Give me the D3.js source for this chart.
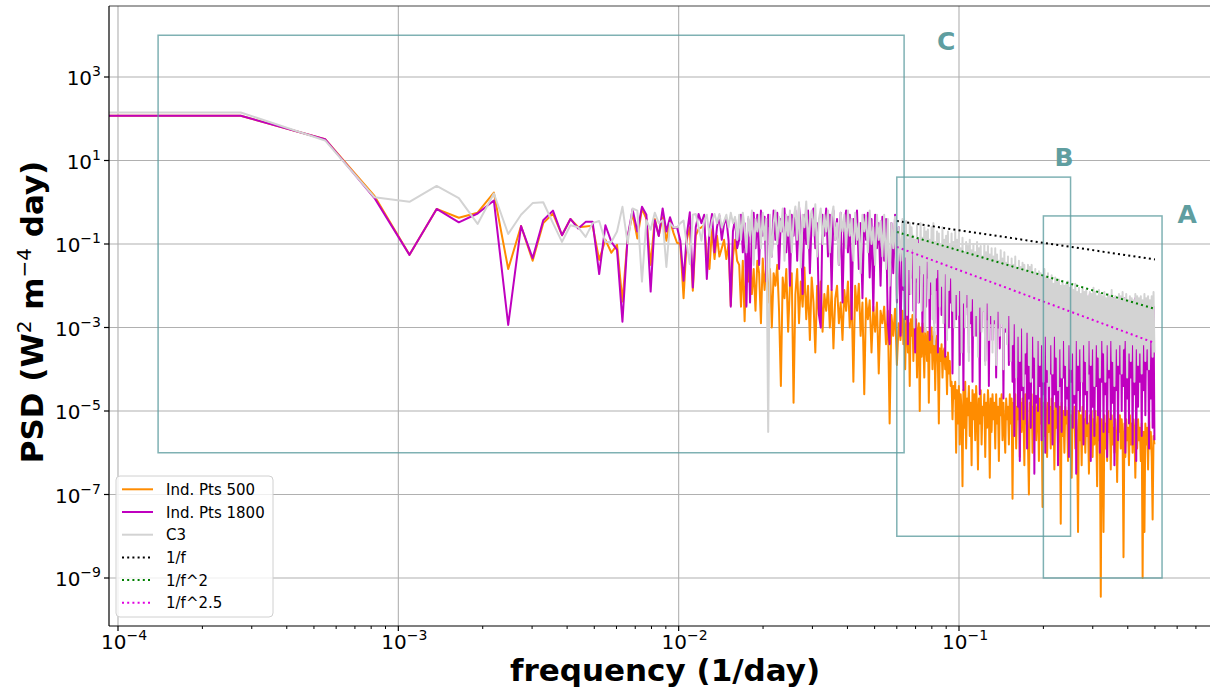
<!DOCTYPE html>
<html>
<head>
<meta charset="utf-8">
<script src="https://cdn.jsdelivr.net/npm/d3@7"></script>
<style>
  body { margin: 0; background: #fff; }
  svg { display: block; font-family: "DejaVu Sans", sans-serif; }
</style>
</head>
<body>
<svg id="psd-plot" width="1210" height="689"></svg>
<script>

// record length in days -> frequency step 1/N
const N_DAYS = 3650;

// harmonics k = 0..59 read one by one, then thinned grids above k = 60
const kLow = d3.range(0, 60);
const kMid = d3.range(0, 90).map(j => 60 * Math.pow(1.015, j));
const kDense = d3.range(0, 278).map(i => 229.4 * Math.pow(1.0075, i));

// log10(PSD)
const ind500Low = [2.07, 2.07, 1.51, 0.15, -1.26, -0.16, -0.37, -0.25, 0.23, -1.6,
	-0.57, -1.4, -0.5, -0.27, -0.79, -0.4, -0.6, -0.58, -0.56, -1.38,
	-0.9, -1.21, -1.02, -2.38, -0.85, -0.27, -0.87, -0.15, -0.4, -1.5,
	-0.4, -0.8, -0.36, -0.92, -0.45, -0.74, -0.97, -1.0, -2.3, -0.9,
	-0.6, -2.12, -0.8, -0.64, -0.6, -0.55, -1.24, -1.6, -0.64, -1.36,
	-0.8, -1.3, -1.1, -0.9, -1.36, -1.0, -2.48, -1.3, -0.9, -1.4];
const ind500Mid = [
	-1.5, -2.5, -1.4, -2.85, -1.3, -1.9, -1.35, -2.2, -1.6, -2.6,
	-1.4, -1.7, -2.9, -1.35, -2.1, -1.5, -2.4, -1.6, -3.0, -1.7,
	-2.0, -1.5, -2.6, -4.4, -1.8, -2.3, -1.6, -3.1, -2.0, -1.7,
	-4.8, -2.2, -1.6, -2.9, -1.9, -2.5, -1.56, -2.8, -2.0, -3.3,
	-1.8, -2.4, -3.6, -2.0, -2.7, -1.9, -3.1, -2.2, -2.6, -2.0,
	-3.0, -2.1, -3.5, -2.3, -2.0, -2.9, -2.4, -3.3, -2.1, -2.6,
	-1.9, -3.0, -2.2, -4.3, -2.0, -2.6, -1.95, -3.2, -2.4, -4.6,
	-2.3, -2.8, -2.35, -3.6, -2.5, -3.1, -2.4, -4.1, -2.6, -2.9,
	-2.5, -3.4, -2.6, -5.3, -2.7, -3.2, -2.55, -3.9, -2.9, -3.3];
const ind500Dense = [
	-2.6, -3.4, -2.8, -4.0, -3.0, -2.7, -3.6, -2.9, -4.4, -2.8, -3.2, -2.7, -3.8, -3.0, -3.5, -2.8, -4.2, -3.1, -2.9, -5.0,
	-3.0, -3.7, -2.9, -3.4, -4.2, -3.0, -3.3, -3.8, -3.1, -4.8, -3.2, -3.6, -3.0, -4.0, -3.3, -3.1, -4.5, -3.4, -3.2, -3.9,
	-5.3, -3.5, -3.8, -3.4, -4.2, -3.6, -3.5, -4.0, -3.7, -4.6, -3.6, -4.1, -3.8, -4.4, -4.3, -5.2, -4.4, -4.7, -4.3, -6.0,
	-4.5, -5.3, -4.4, -5.8, -4.6, -5.0, -6.8, -4.5, -5.4, -4.3, -5.9, -4.7, -5.1, -4.4, -5.6, -4.8, -6.3, -4.5, -5.2, -4.6,
	-5.7, -4.4, -5.0, -6.4, -4.7, -5.3, -4.5, -5.8, -4.9, -5.1, -4.6, -6.1, -4.8, -5.4, -4.5, -5.0, -6.6, -4.7, -5.5, -4.6,
	-5.2, -4.8, -5.9, -4.6, -5.3, -4.9, -6.2, -4.7, -5.1, -4.6, -5.7, -4.8, -5.4, -6.0, -4.7, -5.2, -4.9, -5.8, -4.6, -5.3,
	-4.7, -7.1, -4.8, -5.4, -4.6, -5.9, -4.9, -5.2, -4.5, -6.1, -4.8, -5.5, -4.7, -5.0, -6.3, -4.6, -5.3, -4.9, -5.8, -7.0,
	-4.8, -5.4, -4.6, -6.0, -4.9, -5.2, -4.7, -5.7, -5.0, -4.8, -6.2, -4.7, -5.3, -4.9, -7.3, -4.8, -5.6, -4.7, -5.1, -6.1,
	-4.8, -5.5, -4.9, -5.9, -4.7, -5.2, -5.0, -6.4, -4.8, -5.4, -4.9, -5.8, -5.1, -4.9, -7.7, -4.8, -5.6, -5.0, -6.0, -4.9,
	-5.3, -5.0, -6.2, -4.9, -5.5, -5.1, -6.6, -5.0, -5.4, -4.9, -5.9, -5.2, -5.6, -7.9, -5.0, -5.7, -5.1, -6.3, -4.9, -5.5,
	-5.2, -6.0, -5.0, -5.6, -5.3, -6.5, -5.1, -5.4, -5.0, -6.1, -5.2, -5.8, -5.0, -5.5, -6.8, -5.1, -5.7, -5.3, -9.45, -5.2,
	-5.6, -7.9, -5.1, -5.9, -5.3, -6.2, -5.0, -5.5, -5.2, -6.4, -5.1, -5.8, -5.4, -6.0, -5.2, -5.6, -6.7, -5.3, -5.5, -5.1,
	-5.9, -5.2, -5.6, -8.5, -5.3, -6.1, -5.2, -5.7, -5.4, -6.3, -5.1, -5.8, -5.3, -6.0, -5.2, -5.5, -6.6, -5.3, -5.9, -5.2,
	-5.7, -5.4, -6.2, -5.3, -9.0, -5.5, -7.9, -5.3, -5.8, -5.4, -6.4, -5.2, -5.9, -5.5, -6.1, -7.6, -5.6, -5.8];

const ind1800Low = [2.07, 2.07, 1.51, 0.10, -1.26, -0.16, -0.48, -0.27, 0.04, -2.94,
	-0.57, -1.34, -0.43, -0.2, -0.79, -0.4, -0.63, -0.47, -0.47, -1.72,
	-0.55, -0.95, -1.14, -2.86, -0.83, -0.17, -0.7, -0.11, -0.3, -2.14,
	-0.43, -0.81, -0.15, -0.7, -0.36, -0.62, -0.6, -0.92, -1.88, -0.8,
	-0.24, -2.04, -0.6, -0.28, -0.5, -0.3, -1.84, -0.7, -0.28, -1.2,
	-0.6, -0.32, -0.9, -0.52, -0.4, -0.92, -2.5, -0.7, -0.4, -1.1];
const ind1800Mid = [
	-0.9, -0.3, -1.2, -0.5, -2.5, -0.4, -2.4, -0.7, -0.25, -1.1,
	-0.3, -1.5, -0.2, -0.8, -0.35, -1.9, -0.3, -0.6, -1.3, -0.2,
	-0.9, -0.25, -1.6, -0.4, -0.7, -0.15, -1.2, -0.35, -2.0, -0.3,
	-0.8, -0.2, -1.4, -0.1, -0.6, -2.2, -0.3, -1.0, -0.2, -1.7,
	-0.4, -0.15, -1.1, -0.5, -2.7, -3.0, -0.3, -0.8, -0.15, -1.3,
	-0.3, -2.1, -0.2, -0.9, -0.4, -1.5, -0.25, -2.4, -0.5, -0.2,
	-1.2, -0.3, -2.8, -0.4, -1.0, -0.2, -1.6, -0.5, -2.3, -0.3,
	-0.9, -0.25, -1.8, -0.4, -2.6, -0.3, -1.1, -0.5, -2.0, -0.35,
	-1.4, -0.4, -2.9, -3.4, -0.5, -1.7, -0.3, -2.4, -0.6, -3.2];
const ind1800Dense = [
	-0.7, -2.1, -1.0, -2.8, -0.8, -1.6, -3.4, -0.9, -2.2, -1.1, -1.8, -0.8, -2.6, -1.0, -3.6, -1.2, -1.9, -0.9, -2.4, -1.3,
	-1.7, -1.0, -3.1, -1.1, -2.0, -0.9, -2.5, -1.4, -1.8, -1.0, -3.3, -1.2, -2.2, -1.1, -1.7, -2.9, -1.0, -2.1, -1.3, -3.6,
	-1.1, -2.0, -1.2, -2.7, -1.4, -2.3, -1.0, -3.7, -1.3, -2.0, -1.2, -3.0, -1.4, -2.4, -1.2, -4.1, -1.5, -2.2, -1.3, -2.8,
	-1.4, -2.6, -1.5, -3.9, -1.3, -2.4, -1.6, -4.5, -1.4, -2.7, -1.7, -2.5, -1.5, -3.6, -1.6, -2.9, -1.4, -4.3, -1.7, -2.6,
	-1.5, -3.2, -1.6, -2.7, -1.8, -4.6, -1.5, -3.0, -1.7, -2.6, -1.6, -3.8, -1.8, -2.8, -1.7, -4.4, -1.9, -2.9, -1.6, -3.3,
	-1.8, -2.9, -1.7, -4.2, -1.9, -3.0, -1.8, -3.5, -2.0, -2.8, -1.8, -4.7, -1.9, -3.1, -2.0, -3.0, -1.9, -3.9, -2.1, -3.2,
	-2.0, -4.3, -2.1, -5.6, -1.9, -4.0, -2.2, -4.9, -2.0, -6.2, -2.1, -4.5, -2.3, -5.2, -2.0, -4.1, -2.2, -5.9, -2.1, -4.7,
	-2.2, -5.4, -2.0, -4.2, -2.3, -6.5, -2.1, -4.8, -2.4, -5.0, -2.2, -4.4, -2.1, -5.7, -2.3, -4.6, -2.2, -6.0, -2.4, -4.3,
	-2.1, -5.3, -2.3, -4.1, -2.2, -5.8, -2.5, -4.6, -2.2, -4.9, -2.3, -6.3, -2.1, -4.4, -2.4, -5.5, -2.3, -4.2, -2.2, -5.1,
	-2.3, -4.7, -2.2, -6.1, -2.4, -4.3, -2.3, -5.4, -2.5, -4.8, -2.2, -6.5, -2.4, -4.5, -2.3, -5.0, -2.5, -4.2, -2.2, -5.8,
	-2.4, -4.6, -2.3, -5.3, -2.5, -4.1, -2.2, -6.2, -2.4, -4.9, -2.3, -5.6, -2.6, -4.4, -2.3, -5.1, -2.4, -6.0, -2.5, -4.3,
	-2.3, -5.5, -2.4, -4.6, -2.6, -6.1, -2.3, -4.2, -2.5, -5.2, -2.4, -4.8, -2.3, -6.3, -2.6, -4.5, -2.4, -5.7, -2.5, -4.1,
	-2.4, -5.0, -2.5, -4.4, -2.3, -6.0, -2.6, -4.7, -2.4, -5.3, -2.5, -4.2, -2.4, -5.8, -2.6, -4.6, -2.3, -6.2, -2.5, -4.9,
	-2.4, -4.3, -2.6, -5.6, -2.5, -4.5, -2.4, -5.1, -2.6, -4.0, -2.5, -5.9, -2.4, -4.7, -2.6, -5.4, -2.5, -5.7];

const c3Low = [2.15, 2.15, 1.48, 0.12, 0.01, 0.39, 0.1, -0.52, 0.21, -0.76,
	-0.3, -0.02, 0.0, -0.5, -0.95, -0.55, -0.6, -0.83, -0.5, -0.45,
	-0.95, -0.95, -0.7, -0.11, -0.98, -0.15, -0.2, -1.9, -0.43, -0.66,
	-0.25, -0.5, -0.43, -1.55, -0.5, -0.6, -0.6, -0.5, -0.44, -1.0,
	-1.48, -0.3, -0.28, -0.6, -0.92, -0.44, -0.3, -0.8, -0.44, -0.28,
	-0.5, -0.28, -0.6, -0.45, -0.3, -0.6, -0.25, -0.5, -0.35, -0.9];
const c3Mid = [
	-0.3, -0.9, -0.25, -0.6, -1.2, -0.35, -0.8, -0.2, -1.5, -0.4,
	-0.7, -0.3, -1.1, -0.25, -0.9, -0.4, -5.5, -0.3, -1.3, -0.5,
	-0.2, -1.0, -0.35, -0.7, -0.15, -1.4, -0.3, -0.8, -0.2, -1.2,
	-0.4, -0.1, -0.9, 0.0, -1.56, -0.3, -0.6, 0.02, -1.1, -0.4,
	-0.2, -0.8, -0.05, -1.3, -0.4, -0.15, -1.0, -0.3, -0.7, -0.2,
	-1.2, -0.35, -0.1, -0.9, -0.5, -1.5, -0.25, -0.7, -0.3, -1.1,
	-0.2, -0.8, -0.4, -1.4, -0.25, -0.9, -0.5, -1.7, -0.3, -0.7,
	-0.35, -1.2, -0.2, -1.0, -0.6, -1.5, -0.3, -0.9, -0.45, -1.3,
	-0.3, -1.6, -0.4, -2.0, -0.5, -1.1, -0.35, -2.3, -0.6, -1.4];
const c3Dense = [
	-0.4, -2.0, -0.7, -1.3, -0.45, -2.7, -0.9, -1.6, -0.5, -2.2, -0.6, -1.1, -0.8, -3.0, -0.9, -1.8, -0.55, -2.4, -1.0, -1.5,
	-0.5, -2.6, -0.85, -1.7, -0.6, -3.1, -0.7, -1.4, -0.65, -2.3, -0.9, -1.9, -0.6, -2.8, -0.5, -3.4, -0.95, -1.8, -0.7, -1.6,
	-0.75, -2.5, -1.0, -2.0, -0.6, -2.9, -0.9, -1.7, -0.8, -3.3, -0.7, -2.1, -1.05, -1.8, -0.75, -2.6, -0.95, -3.0, -0.7, -2.2,
	-0.9, -2.7, -0.8, -2.1, -1.1, -3.6, -0.85, -2.4, -1.2, -3.0, -0.95, -2.2, -1.05, -3.8, -0.9, -2.6, -1.15, -2.3, -1.0, -3.2,
	-1.2, -2.7, -0.95, -3.7, -1.1, -2.5, -1.05, -3.1, -1.3, -2.6, -1.0, -3.9, -1.2, -2.4, -1.05, -3.3, -1.25, -2.7, -1.1, -3.6,
	-1.3, -2.8, -1.1, -3.9, -1.25, -2.6, -1.4, -3.2, -1.15, -2.9, -1.35, -4.0, -1.2, -3.0, -1.45, -3.4, -1.3, -2.7, -1.5, -3.8,
	-1.35, -3.4, -1.5, -2.9, -1.3, -4.2, -1.6, -3.2, -1.4, -3.8, -1.55, -3.0, -1.45, -4.4, -1.5, -3.6, -1.65, -3.1, -1.5, -3.9,
	-1.55, -4.3, -1.5, -3.2, -1.7, -3.7, -1.6, -4.6, -1.75, -3.3, -1.65, -3.9, -1.7, -3.4, -1.8, -4.3, -1.6, -3.2, -1.8, -4.0,
	-1.7, -4.4, -1.85, -3.4, -1.75, -4.1, -1.95, -3.2, -1.8, -3.7, -1.9, -4.5, -1.85, -3.5, -2.0, -4.2, -1.9, -3.3, -2.0, -3.9,
	-1.95, -4.4, -1.9, -3.4, -2.05, -4.0, -2.0, -3.6, -2.1, -4.6, -1.95, -3.3, -2.15, -3.9, -2.05, -3.5, -2.2, -4.3, -2.05, -3.4,
	-2.15, -3.8, -2.1, -4.5, -2.25, -3.3, -2.15, -3.9, -2.2, -3.5, -2.05, -4.4, -2.15, -3.4, -2.25, -3.7, -2.1, -4.2, -2.2, -3.3,
	-2.25, -3.6, -2.15, -4.3, -2.3, -3.4, -2.2, -4.0, -2.25, -3.3, -2.1, -3.8, -2.3, -4.4, -2.25, -3.5, -2.35, -3.9, -2.2, -3.4,
	-2.25, -4.1, -2.15, -3.5, -2.3, -3.3, -2.2, -4.2, -2.35, -3.6, -2.25, -3.8, -2.3, -3.4, -2.35, -4.3, -2.2, -3.5, -2.25, -3.9,
	-2.3, -3.6, -2.25, -4.1, -2.35, -3.4, -2.2, -3.8, -2.3, -3.5, -2.25, -4.0, -2.35, -3.3, -2.25, -3.7, -2.15, -3.6];

// power-law guides: value at the first frequency, exponent
const guideFreqs = [0.06, 0.5];
const guideNames = ['1/f', '1/f^2', '1/f^2.5'];
const guideStart = [0.356, 0.194, 0.085];
const guideExp = [1, 2, 2.5];
const guideColors = ['#000000', '#008000', '#e000e0'];

// frequency bands marked on the figure
const boxNames = ['C', 'B', 'A'];
const boxFreq = [[1.39e-4, 0.0637], [0.06, 0.25], [0.2, 0.53]];
const boxPsd = [[1e4, 1e-6], [4, 1e-8], [0.47, 1e-9]];
const boxLabelAt = [[0.09, 7e3], [0.237, 11.5], [0.652, 0.5]];

const seriesNames = ['Ind. Pts 500', 'Ind. Pts 1800', 'C3'];
const seriesColors = ['#ff8c00', '#bf00bf', '#d3d3d3'];

const xTicks = [1e-4, 1e-3, 1e-2, 1e-1];
const yTicks = [1e3, 1e1, 1e-1, 1e-3, 1e-5, 1e-7, 1e-9];


const svg = d3.select('#psd-plot');
const plot = {left: 109, right: 1210, top: 6, bottom: 626};

const x = d3.scaleLog().domain([1e-4, 1e-1]).range([118, 959]);
const y = d3.scaleLog().domain([1e3, 1e-9]).range([77, 578]);

const freqs = kLow.concat(kMid, kDense).map(k => k / N_DAYS);
const series = [
	ind500Low.concat(ind500Mid, ind500Dense),
	ind1800Low.concat(ind1800Mid, ind1800Dense),
	c3Low.concat(c3Mid, c3Dense)
].map(vals => vals.map((v, i) => ({f: freqs[i], p: Math.pow(10, v)})));

svg.append('defs').append('clipPath').attr('id', 'plot-clip')
	.append('rect')
	.attr('x', plot.left).attr('y', plot.top)
	.attr('width', plot.right - plot.left).attr('height', plot.bottom - plot.top);

// grid
const grid = svg.append('g').attr('stroke', '#b0b0b0').attr('stroke-width', 1.1);
grid.selectAll('.gx').data(xTicks).enter().append('line')
	.attr('x1', d => x(d)).attr('x2', d => x(d))
	.attr('y1', plot.top).attr('y2', plot.bottom);
grid.selectAll('.gy').data(yTicks).enter().append('line')
	.attr('x1', plot.left).attr('x2', plot.right)
	.attr('y1', d => y(d)).attr('y2', d => y(d));

// f = 0 gets pushed off the left edge, like matplotlib's clipping
const line = d3.line()
	.x(d => d.f > 0 ? x(d.f) : plot.left - 20)
	.y(d => y(d.p));

const data_g = svg.append('g').attr('clip-path', 'url(#plot-clip)');
series.forEach((s, i) => {
	data_g.append('path').datum(s)
		.attr('d', line)
		.attr('fill', 'none')
		.attr('stroke', seriesColors[i])
		.attr('stroke-width', 2)
		.attr('stroke-linejoin', 'round');
});

guideNames.forEach((name, i) => {
	const pts = guideFreqs.map(f => ({f: f, p: guideStart[i] * Math.pow(guideFreqs[0] / f, guideExp[i])}));
	data_g.append('path').datum(pts)
		.attr('d', line)
		.attr('fill', 'none')
		.attr('stroke', guideColors[i])
		.attr('stroke-width', 2)
		.attr('stroke-dasharray', '2,3.2');
});

// band boxes
const boxes = svg.append('g').attr('clip-path', 'url(#plot-clip)');
boxNames.forEach((name, i) => {
	const x0 = x(boxFreq[i][0]), x1 = x(boxFreq[i][1]);
	const y0 = y(boxPsd[i][0]), y1 = y(boxPsd[i][1]);
	boxes.append('rect')
		.attr('x', x0).attr('y', y0)
		.attr('width', x1 - x0).attr('height', y1 - y0)
		.attr('fill', 'none')
		.attr('stroke', '#5f9ea0')
		.attr('stroke-opacity', 0.8)
		.attr('stroke-width', 1.5);
	boxes.append('text')
		.attr('x', x(boxLabelAt[i][0])).attr('y', y(boxLabelAt[i][1]))
		.attr('text-anchor', 'middle')
		.attr('dominant-baseline', 'central')
		.attr('font-size', 25).attr('font-weight', 'bold')
		.attr('fill', '#5f9ea0')
		.text(name);
});

// spines
svg.append('line').attr('x1', plot.left).attr('x2', plot.right).attr('y1', plot.top).attr('y2', plot.top)
	.attr('stroke', '#444').attr('stroke-width', 1.2);
svg.append('line').attr('x1', plot.left).attr('x2', plot.left).attr('y1', plot.top).attr('y2', plot.bottom)
	.attr('stroke', '#000').attr('stroke-width', 1.2);
svg.append('line').attr('x1', plot.left).attr('x2', plot.right).attr('y1', plot.bottom).attr('y2', plot.bottom)
	.attr('stroke', '#000').attr('stroke-width', 1.2);

function powerLabel(sel, e) {
	sel.append('tspan').text('10');
	sel.append('tspan').attr('dy', -9).attr('font-size', 14)
		.text(e < 0 ? '\u2212' + (-e) : String(e));
}

// x ticks
const xMinor = [];
for (let d = -5; d <= 0; d++) {
	for (let m = 2; m <= 9; m++) {
		const f = m * Math.pow(10, d);
		if (x(f) > plot.left && x(f) < plot.right) xMinor.push(f);
	}
}
svg.append('g').selectAll('line').data(xMinor).enter().append('line')
	.attr('x1', d => x(d)).attr('x2', d => x(d))
	.attr('y1', plot.bottom).attr('y2', plot.bottom + 3)
	.attr('stroke', '#000').attr('stroke-width', 1);
svg.append('g').selectAll('line').data(xTicks).enter().append('line')
	.attr('x1', d => x(d)).attr('x2', d => x(d))
	.attr('y1', plot.bottom).attr('y2', plot.bottom + 5)
	.attr('stroke', '#000').attr('stroke-width', 1.2);
svg.append('g').selectAll('text').data(xTicks).enter().append('text')
	.attr('x', d => x(d) + 6).attr('y', 649)
	.attr('text-anchor', 'middle')
	.attr('font-size', 20)
	.each(function(d) { powerLabel(d3.select(this), Math.round(Math.log10(d))); });

// y ticks
svg.append('g').selectAll('line').data(yTicks).enter().append('line')
	.attr('x1', plot.left - 5).attr('x2', plot.left)
	.attr('y1', d => y(d)).attr('y2', d => y(d))
	.attr('stroke', '#000').attr('stroke-width', 1.2);
svg.append('g').selectAll('text').data(yTicks).enter().append('text')
	.attr('x', 101).attr('y', d => y(d) + 8)
	.attr('text-anchor', 'end')
	.attr('font-size', 20)
	.each(function(d) { powerLabel(d3.select(this), Math.round(Math.log10(d))); });

// axis titles
svg.append('text')
	.attr('x', 665).attr('y', 681)
	.attr('text-anchor', 'middle')
	.attr('font-size', 31).attr('font-weight', 'bold')
	.text('frequency (1/day)');

const ytitle = svg.append('text')
	.attr('transform', 'translate(43,312) rotate(-90)')
	.attr('text-anchor', 'middle')
	.attr('font-size', 31).attr('font-weight', 'bold');
ytitle.append('tspan').text('PSD (W');
ytitle.append('tspan').attr('dy', -12).attr('font-size', 20).attr('font-weight', 'normal').text('2');
ytitle.append('tspan').attr('dy', 12).text(' m');
ytitle.append('tspan').attr('dy', -12).attr('font-size', 20).attr('font-weight', 'normal').text('\u22124');
ytitle.append('tspan').attr('dy', 12).text(' day)');

// legend
const legend = svg.append('g');
legend.append('rect')
	.attr('x', 116).attr('y', 476).attr('width', 157).attr('height', 141)
	.attr('rx', 4)
	.attr('fill', '#fff').attr('fill-opacity', 0.8)
	.attr('stroke', '#d0d0d0').attr('stroke-width', 1);
const legendItems = seriesNames.map((n, i) => ({name: n, color: seriesColors[i], dash: null}))
	.concat(guideNames.map((n, i) => ({name: n, color: guideColors[i], dash: '2,3.2'})));
legendItems.forEach((it, i) => {
	const ly = 489.3 + i * 22.7;
	legend.append('line')
		.attr('x1', 122).attr('x2', 153).attr('y1', ly).attr('y2', ly)
		.attr('stroke', it.color)
		.attr('stroke-width', 2)
		.attr('stroke-dasharray', it.dash);
	legend.append('text')
		.attr('x', 166).attr('y', ly + 5.5)
		.attr('font-size', 15)
		.text(it.name);
});

</script>
</body>
</html>
